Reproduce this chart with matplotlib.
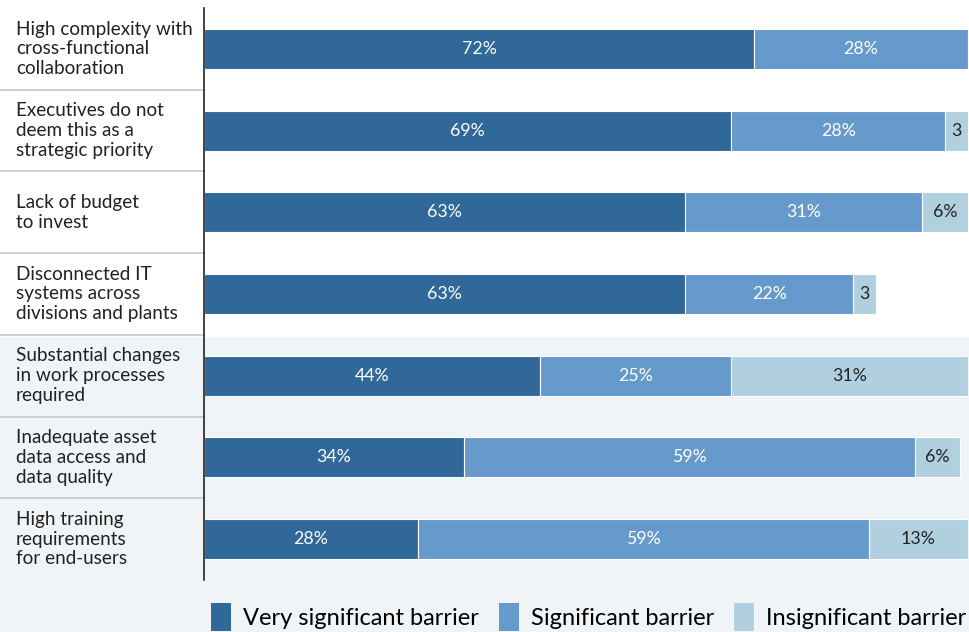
import matplotlib.pyplot as plt
import numpy as np
from matplotlib.patches import Patch, Rectangle

plt.rcParams['font.family'] = ['Lato', 'DejaVu Sans']

barriers = ['High complexity with\ncross-functional\ncollaboration',
            'Executives do not\ndeem this as a\nstrategic priority',
            'Lack of budget\nto invest',
            'Disconnected IT\nsystems across\ndivisions and plants',
            'Substantial changes\nin work processes\nrequired',
            'Inadequate asset\ndata access and\ndata quality',
            'High training\nrequirements\nfor end-users']
very_sig = [72, 69, 63, 63, 44, 34, 28]
sig = [28, 28, 31, 22, 25, 59, 59]
insig = [0, 3, 6, 3, 31, 6, 13]
series_names = ['Very significant barrier', 'Significant barrier', 'Insignificant barrier']

colors = ['#2f6899', '#6699cc', '#b0d0df']
text_colors = ['white', 'white', '#222222']
shade = '#f1f4f6'

W, H = 970, 632
fig = plt.figure(figsize=(W / 100, H / 100), dpi=100)
ax = fig.add_axes([204 / W, 1 - 580 / H, 764 / W, 572 / H])
ax.set_facecolor('none')

# shaded band behind the lower rows and the legend
band_top = 1 - 337 / H
fig.patches.append(Rectangle((0, 0), 1, band_top, transform=fig.transFigure,
                             color=shade, zorder=-10))

y = np.arange(len(barriers))
left = np.zeros(len(barriers))
for vals, c, tc in zip([very_sig, sig, insig], colors, text_colors):
    vals = np.array(vals, dtype=float)
    ax.barh(y, vals, left=left, height=0.49, color=c, edgecolor='white', linewidth=0.8)
    for yi, l, v in zip(y, left, vals):
        if v > 0:
            txt = f'{int(v)}' if v <= 3 else f'{int(v)}%'
            ax.text(l + v / 2, yi, txt, ha='center', va='center', color=tc, fontsize=12.8)
    left += vals

ax.set_xlim(0, 100)
ax.set_ylim(len(barriers) - 0.5, -0.5)
ax.set_xticks([]); ax.set_yticks([])
for s in ['top', 'right', 'bottom']:
    ax.spines[s].set_visible(False)
ax.spines['left'].set_color('#222222')
ax.spines['left'].set_linewidth(1.2)

# category labels and separators in the left column
for yi, name in zip(y, barriers):
    ax.text(-188 / 764 * 100, yi, name, ha='left', va='center', fontsize=13.6,
            linespacing=1.2, color='#222222', clip_on=False)
    if yi > 0:
        ax.plot([-204 / 764 * 100, 0], [yi - 0.5, yi - 0.5], color='#c8c8c8',
                linewidth=1.2, clip_on=False)

handles = [Patch(facecolor=c, edgecolor='none') for c in colors]
fig.legend(handles, series_names, loc='lower right', bbox_to_anchor=(1.006, -0.014), ncol=3,
           frameon=False, fontsize=17, handlelength=0.85, handleheight=1.45,
           handletextpad=0.5, columnspacing=0.85, borderaxespad=0.0)

fig.savefig('out.png', dpi=100, facecolor='white')
